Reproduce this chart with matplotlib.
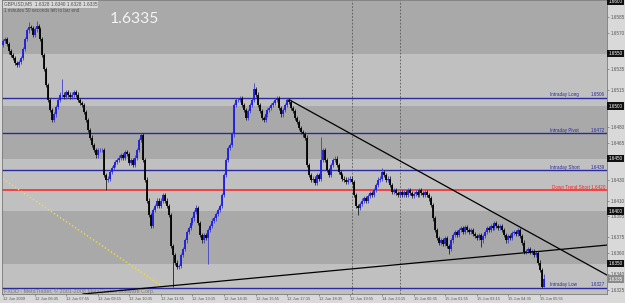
import numpy as np
import matplotlib.pyplot as plt

# GBPUSD M5 chart, prices kept as pips above 1.6300
BASE = 1.6300
PIP = 0.0001

first_open_pips = 258
closes_pips = [
    262, 264, 259, 252, 249, 246, 241, 239, 242, 246,
    254, 264, 272, 275, 274, 268, 273, 276, 273, 264,
    249, 235, 220, 206, 196, 187, 192, 199, 206, 211,
    211, 209, 213, 211, 209, 211, 213, 211, 206, 203,
    201, 194, 187, 177, 170, 163, 158, 153, 158, 158,
    158, 134, 130, 131, 137, 141, 144, 147, 149, 151,
    153, 151, 156, 154, 146, 149, 144, 151, 158, 168,
    172, 149, 130, 110, 96, 86, 101, 105, 110, 105,
    110, 115, 110, 105, 96, 67, 58, 51, 47, 48,
    58, 64, 72, 80, 84, 89, 93, 99, 103, 89,
    77, 72, 77, 74, 82, 86, 91, 93, 97, 101,
    105, 115, 134, 149, 160, 163, 173, 201, 206, 206,
    208, 201, 196, 189, 195, 201, 206, 216, 211, 201,
    195, 189, 187, 192, 196, 198, 201, 203, 206, 208,
    198, 192, 196, 201, 206, 204, 198, 195, 189, 185,
    179, 175, 173, 170, 144, 134, 130, 131, 127, 134,
    131, 149, 158, 149, 139, 134, 144, 149, 150, 144,
    137, 134, 131, 130, 128, 130, 131, 128, 115, 105,
    103, 107, 110, 112, 110, 114, 117, 115, 120, 125,
    130, 131, 137, 134, 130, 131, 125, 118, 120, 117,
    115, 118, 115, 118, 115, 120, 117, 114, 116, 118,
    115, 120, 117, 115, 118, 115, 112, 106, 93, 82,
    74, 70, 72, 69, 74, 67, 64, 72, 77, 80,
    77, 82, 84, 80, 85, 82, 80, 82, 78, 76,
    74, 77, 72, 76, 80, 84, 82, 86, 84, 89,
    86, 84, 86, 82, 77, 72, 76, 74, 79, 80,
    78, 82, 76, 70, 61, 62, 64, 61, 62, 58,
    60, 51, 44, 28, 35,
]
# long wicks that stand out (bar index -> pips)
spike_highs = {13: 280, 17: 281, 30: 226, 70: 174, 98: 106, 127: 222,
               144: 208, 161: 171, 192: 141, 274: 40}
spike_lows = {52: 120, 86: 28, 104: 50, 180: 96, 226: 59, 242: 66,
              273: 27, 274: 28}
WICK = 2

level_names = ["Intraday Long", "Intraday Pivot", "Intraday Short", "Intraday Low"]
level_prices = [1.6508, 1.6474, 1.6439, 1.6327]
level_texts = ["1.6506", "1.6472", "1.6439", "1.6327"]
red_name = "Down Trend Short 1.6420"
red_price = 1.6420

band_edges = [1.6600, 1.6550, 1.6500, 1.6450, 1.6400, 1.6350, 1.6300]
box_prices = [1.6600, 1.6550, 1.6500, 1.6450, 1.6400, 1.6350]
axis_ticks = [1.6585, 1.6570, 1.6535, 1.6515, 1.6480, 1.6465, 1.6430,
              1.6410, 1.6395, 1.6375, 1.6360, 1.6340, 1.6325]
bid = 1.6335

down_trend_bars = [145, 306]
down_trend_prices = [1.6506, 1.6339]
up_trend_bars = [40.5, 306]
up_trend_prices = [1.6321, 1.63676]
yellow_bars = [-1.5, 82]
yellow_prices = [1.64324, 1.63267]
separator_bars = [177, 201]

time_bars = list(range(0, 273, 16))
time_labels = ["12 Jun 2009", "12 Jun 06:35", "12 Jun 07:55", "12 Jun 09:15",
               "12 Jun 10:35", "12 Jun 11:55", "12 Jun 13:15", "12 Jun 14:35",
               "12 Jun 15:55", "12 Jun 17:15", "12 Jun 18:35", "12 Jun 19:55",
               "14 Jun 23:15", "15 Jun 00:35", "15 Jun 01:55", "15 Jun 03:15",
               "15 Jun 04:35", "15 Jun 05:55"]

closes = BASE + np.array(closes_pips) * PIP
opens = np.concatenate([[BASE + first_open_pips * PIP], closes[:-1]])
highs = np.maximum(opens, closes) + WICK * PIP
lows = np.minimum(opens, closes) - WICK * PIP
for k, v in spike_highs.items():
    highs[k] = BASE + v * PIP
for k, v in spike_lows.items():
    lows[k] = BASE + v * PIP
bars = np.arange(len(closes))

W, H = 625, 303
fig = plt.figure(figsize=(W / 100, H / 100), dpi=100, facecolor="#d9d9d9")
ax = fig.add_axes([2 / W, 9 / H, 605 / W, 294 / H])
ax.set_xlim(-0.5, 306)
ax.set_ylim(1.63210, 1.66010)
ax.set_facecolor("#c0c0c0")
for s in ax.spines.values():
    s.set_color("#7a7a7a")
    s.set_linewidth(0.6)

SMALL = dict(family=["Liberation Sans", "DejaVu Sans"])

# alternating price bands
for i in range(len(band_edges) - 1):
    c = "#a9a9a9" if i % 2 == 0 else "#c0c0c0"
    ax.axhspan(band_edges[i + 1], band_edges[i], color=c, lw=0, zorder=0)

for b in separator_bars:
    ax.axvline(b, color="#555555", lw=0.6, ls=(0, (2, 2)), zorder=1)

for name, p, t in zip(level_names, level_prices, level_texts):
    ax.axhline(p, color="#2a2a9c", lw=1.0, zorder=2)
    ax.text(548 / 605, p + 0.3 * PIP, name, transform=ax.get_yaxis_transform(),
            ha="left", va="bottom", fontsize=3.3, color="#2a2a9c", **SMALL)
    ax.text(0.997, p + 0.3 * PIP, t, transform=ax.get_yaxis_transform(),
            ha="right", va="bottom", fontsize=3.3, color="#2a2a9c", **SMALL)
ax.axhline(red_price, color="#ff2020", lw=1.1, zorder=2)
ax.text(0.997, red_price + 0.3 * PIP, red_name, transform=ax.get_yaxis_transform(),
        ha="right", va="bottom", fontsize=3.3, color="#ff2020", **SMALL)

ax.plot(yellow_bars, yellow_prices, color="#f2e22a", lw=1.0, ls=(0, (1, 1.6)), zorder=2)

# candles
up = closes >= opens
dn = ~up
ax.vlines(bars[up], lows[up], highs[up], color="#4040c8", lw=0.6, zorder=3)
ax.vlines(bars[up], opens[up], closes[up], color="#1c1ce0", lw=1.3, zorder=3)
ax.vlines(bars[dn], lows[dn], highs[dn], color="#202020", lw=0.6, zorder=3)
ax.vlines(bars[dn], opens[dn], closes[dn], color="#000000", lw=1.3, zorder=3)

ax.plot(down_trend_bars, down_trend_prices, color="black", lw=0.9, zorder=4)
ax.plot(up_trend_bars, up_trend_prices, color="black", lw=0.9, zorder=4)

# texts on the chart
ax.text(0.003, 0.986, "GBPUSD,M5  1.6328 1.6340 1.6328 1.6335", transform=ax.transAxes,
        ha="left", va="center", fontsize=3.4, color="#505050",
        bbox=dict(boxstyle="square,pad=0.2", fc="#d8d8d8", ec="none"), **SMALL)
ax.text(0.003, 0.963, "1 minutes 50 seconds left to bar end", transform=ax.transAxes,
        ha="left", va="center", fontsize=3.3, color="#505050", **SMALL)
ax.text(108 / 605, 0.937, "1.6335", transform=ax.transAxes, ha="left", va="center",
        fontsize=11.3, color="#f4f4f4", family=["Lato", "DejaVu Sans"])
ax.text(0.003, 0.011, "FXDD - MetaTrader, \u00a9 2001-2008 MetaQuotes Software Corp.",
        transform=ax.transAxes, ha="left", va="center", fontsize=3.9,
        color="#7a7a7a", **SMALL)

# right price scale
ax.yaxis.tick_right()
ax.set_yticks(axis_ticks)
ax.set_yticklabels([f"{p:.4f}" for p in axis_ticks])
ax.tick_params(axis="y", length=1.5, width=0.4, color="#555555", labelsize=3.3,
               labelcolor="#555555", pad=1.2)
for p in box_prices:
    ax.text(1.003, p, f"{p:.4f}", transform=ax.get_yaxis_transform(), ha="left",
            va="center", fontsize=3.3, color="white", clip_on=False, zorder=6,
            bbox=dict(boxstyle="square,pad=0.3", fc="#101010", ec="none"), **SMALL)
ax.text(1.003, bid, f"{bid:.4f}", transform=ax.get_yaxis_transform(), ha="left",
        va="center", fontsize=3.3, color="white", clip_on=False, zorder=6,
        bbox=dict(boxstyle="square,pad=0.3", fc="#8a8a8a", ec="none"), **SMALL)

# time scale
ax.set_xticks(time_bars)
ax.set_xticklabels(time_labels)
ax.tick_params(axis="x", length=1.5, width=0.4, color="#555555", labelsize=2.9,
               labelcolor="#555555", pad=0.8)
for lab in ax.get_xticklabels() + ax.get_yticklabels():
    lab.set_family(["Liberation Sans", "DejaVu Sans"])
for lab in ax.get_xticklabels():
    lab.set_ha("left")

fig.savefig("out.png", dpi=100, facecolor=fig.get_facecolor())
